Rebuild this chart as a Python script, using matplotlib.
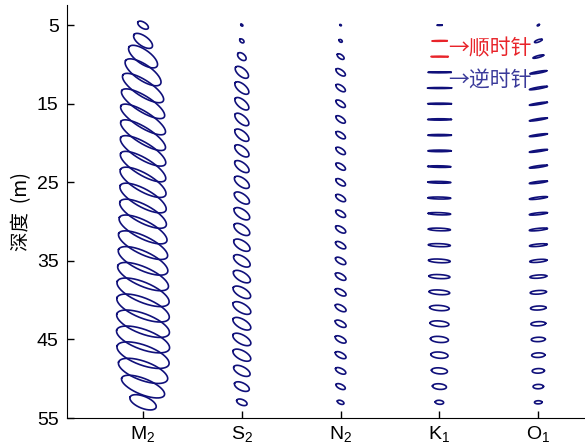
import numpy as np
import matplotlib
matplotlib.use("Agg")
import matplotlib.pyplot as plt

plt.rcParams['font.family'] = ['Liberation Sans', 'DejaVu Sans']
plt.rcParams['mathtext.fontset'] = 'custom'
plt.rcParams['mathtext.rm'] = 'Liberation Sans'
plt.rcParams['mathtext.it'] = 'Liberation Sans'

depth = [5, 7, 9, 11, 13, 15, 17, 19, 21, 23, 25, 27, 29,
         31, 33, 35, 37, 39, 41, 43, 45, 47, 49, 51, 53]
names = [r'M$_2$', r'S$_2$', r'N$_2$', r'K$_1$', r'O$_1$']

# semi-major (cm/s), semi-minor (cm/s, <0 = clockwise), inclination (deg)
m2_major = [6, 11, 17, 21, 24, 25, 26, 26, 26, 26, 26, 26, 26,
            26.5, 27, 27, 27.5, 28, 28, 28, 28, 27.5, 26, 23, 14]
m2_minor = [3, 5, 7, 8, 8, 8, 8, 8, 8.5, 8.5, 9, 9, 9,
            9, 9, 9.5, 9.5, 10, 10, 10, 10, 10, 9.5, 8, 6]
m2_inc = [148, 145, 145, 146, 147, 148, 148, 148, 149, 149, 150, 151, 152,
          153, 154, 155, 156, 157, 158, 159, 160, 160, 160, 158, 158]

s2_major = [1.2, 2.5, 5, 8, 8.5, 8.5, 8.5, 8.5, 8.5, 8.5, 8.7, 8.8, 9,
            9, 9.2, 9.4, 9.6, 9.8, 10, 10, 10, 9.8, 9, 8, 5.5]
s2_minor = [0.8, 1.6, 3, 4, 4, 4, 4, 4, 4, 4, 4.2, 4.2, 4.3,
            4.3, 4.4, 4.4, 4.5, 4.5, 4.5, 4.5, 4.5, 4.5, 4.2, 3.8, 2.8]
s2_inc = [140, 140, 140, 140, 140, 140, 140, 141, 142, 143, 144, 145, 146,
          147, 148, 148, 149, 150, 150, 150, 151, 152, 153, 155, 158]

n2_major = [0.8, 1.8, 4, 5.5, 5.5, 5.5, 5.5, 5.5, 5.5, 5.5, 5.5, 5.6, 5.6,
            5.7, 5.8, 5.8, 5.9, 6, 6, 6, 6, 5.9, 5.6, 5, 3.5]
n2_minor = [0.6, 1.2, 2, 2.5, 2.5, 2.5, 2.5, 2.5, 2.5, 2.5, 2.6, 2.6, 2.6,
            2.6, 2.6, 2.7, 2.7, 2.7, 2.7, 2.7, 2.7, 2.6, 2.5, 2.3, 1.8]
n2_inc = [145, 145, 145, 145, 145, 145, 145, 146, 146, 147, 147, 148, 148,
          149, 149, 150, 150, 151, 151, 152, 152, 153, 154, 155, 158]

k1_major = [2.5, 7.5, 8.5, 11.5, 12, 11.8, 11.8, 11.7, 11.6, 11.5, 11.4, 11.3, 11.2,
            11, 10.9, 10.8, 10.5, 10.3, 9.8, 9.5, 9, 8.6, 8, 7, 4.2]
k1_minor = [0.3, -0.4, -0.4, 0.5, 0.5, 0.6, 0.7, 0.7, 0.8, 0.8, 0.9, 1.0, 1.1,
            1.3, 1.5, 1.8, 2.0, 2.3, 2.6, 2.8, 3.0, 3.1, 3.0, 2.8, 2.0]
k1_inc = [0, 1, 0, 0, 0, 0, 0, 0, 0, 179, 179, 179, 178,
          178, 178, 177, 177, 176, 176, 175, 175, 175, 175, 175, 175]

o1_major = [1.2, 4, 5.5, 8.5, 9, 9, 9, 9, 9, 9, 9, 9, 9,
            9, 8.8, 8.6, 8.4, 8.1, 7.8, 7.4, 7, 6.6, 6.1, 5.2, 3.8]
o1_minor = [0.6, 1.2, 1.0, 0.9, 0.9, 0.8, 0.8, 0.8, 0.8, 0.9, 0.9, 1.0, 1.0,
            1.1, 1.2, 1.4, 1.6, 1.8, 2.0, 2.1, 2.2, 2.3, 2.3, 2.2, 1.6]
o1_inc = [30, 20, 15, 10, 10, 9, 9, 8, 8, 8, 7, 7, 6,
          6, 5, 5, 4, 4, 3, 3, 2, 2, 2, 1, 1]

majors = [m2_major, s2_major, n2_major, k1_major, o1_major]
minors = [m2_minor, s2_minor, n2_minor, k1_minor, o1_minor]
incs = [m2_inc, s2_inc, n2_inc, k1_inc, o1_inc]

W_PX, H_PX = 585, 443
fig = plt.figure(figsize=(W_PX / 100, H_PX / 100), dpi=100)
L, B, W, H = 0.1145, 0.0564, 0.886, 0.932
ax = fig.add_axes([L, B, W, H])
xlim = (0.23, 5.476)
ylim = (55, 2.45)

# 1 cm/s drawn as 1 pixel in both directions
px_x = W * W_PX / (xlim[1] - xlim[0])
px_y = H * H_PX / (ylim[0] - ylim[1])

t = np.linspace(0, 2 * np.pi, 200)
for i in range(5):
    xc = i + 1
    for d, a, b, inc in zip(depth, majors[i], minors[i], incs[i]):
        th = np.deg2rad(inc)
        u = a * np.cos(t) * np.cos(th) - b * np.sin(t) * np.sin(th)
        v = a * np.cos(t) * np.sin(th) + b * np.sin(t) * np.cos(th)
        col = '#e8242a' if b < 0 else '#10107a'
        ax.plot(xc + u / px_x, d - v / px_y, color=col, lw=1.2)

cjk = ['Noto Sans CJK SC', 'DejaVu Sans']
ax.text(4.09, 8, '→顺时针', color='#e8242a', fontsize=15, family=cjk,
        ha='left', va='center')
ax.text(4.09, 12, '→逆时针', color='#3a3a9a', fontsize=15, family=cjk,
        ha='left', va='center')

ax.set_xlim(xlim)
ax.set_ylim(ylim)
ax.set_xticks([1, 2, 3, 4, 5])
ax.set_xticklabels(names)
ax.set_yticks([5, 15, 25, 35, 45, 55])
ax.tick_params(direction='in', length=5, labelsize=14, width=1)
ax.tick_params(axis='y', pad=6)
ax.tick_params(axis='x', pad=4)
ax.spines['top'].set_visible(False)
ax.spines['right'].set_visible(False)
ax.set_ylabel('深度  (m)', family=cjk, fontsize=14, labelpad=3)

fig.savefig('out.png', dpi=100)
